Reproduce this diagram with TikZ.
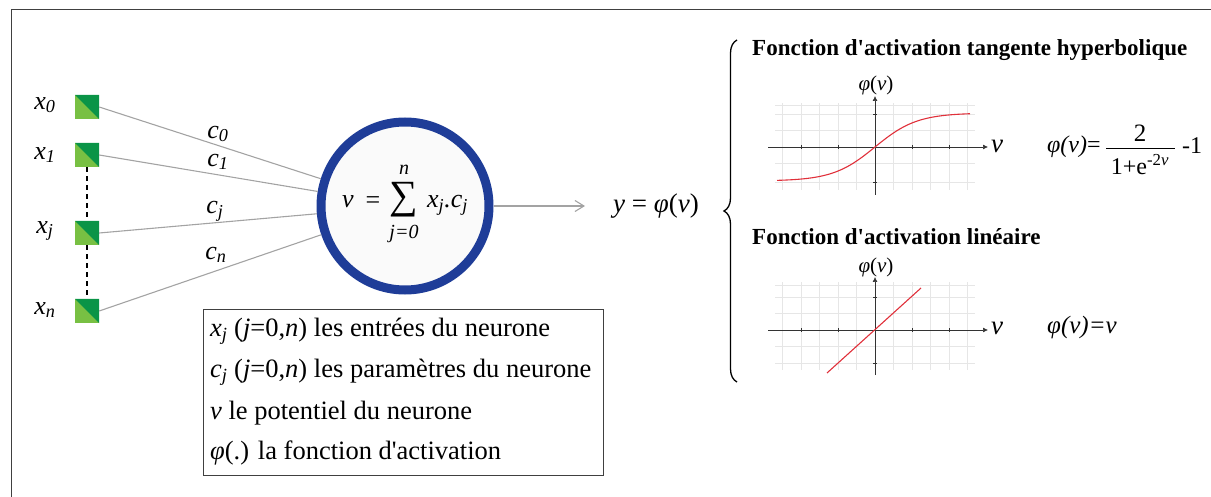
\documentclass[tikz,border=0pt]{standalone}
\usepackage{fontspec}
\setmainfont{Liberation Serif}
\usetikzlibrary{arrows.meta,decorations.pathreplacing}
\definecolor{glight}{HTML}{78C043}
\definecolor{gdark}{HTML}{0A9447}
\definecolor{nblue}{HTML}{1F3D98}
\definecolor{wgray}{HTML}{A3A3A3}
\definecolor{cred}{HTML}{E0303A}
\definecolor{gridc}{HTML}{E6E6E6}
\newcommand\iv[1]{\textit{#1}}
\newcommand\ap{\textquotesingle}
\begin{document}
\begin{tikzpicture}[x=1pt,y=-1pt,
  inbox/.style={minimum size=24pt,inner sep=0pt,fill=glight,
    path picture={\fill[gdark] (path picture bounding box.north west) -- (path picture bounding box.north east) -- (path picture bounding box.south east) -- cycle;}},
  xlab/.style={font=\fontsize{26}{28}\selectfont\itshape,inner sep=0pt},
  clab/.style={font=\fontsize{26}{28}\selectfont\itshape,inner sep=0pt},
  wire/.style={draw=wgray,line width=1.1pt},
  title/.style={font=\fontsize{23}{25}\selectfont\bfseries,anchor=west,inner sep=0pt},
  axis/.style={line width=0.7pt,draw=black!80},
  gridl/.style={draw=gridc,line width=0.5pt},
  curve/.style={draw=cred,line width=1.1pt},
  formula/.style={font=\fontsize{24}{26}\selectfont,inner sep=0pt},
  small/.style={font=\fontsize{19}{21}\selectfont,inner sep=0pt},
  leg/.style={font=\fontsize{26.5}{28}\selectfont,anchor=west,inner sep=0pt}
]
\useasboundingbox (0,0) rectangle (1211,497);
\begin{scope}
\clip (0,0) rectangle (1211,497);
\draw[line width=1pt,draw=black!75] (11,10) rectangle (1220,510);
\end{scope}

% inputs
\node[inbox] (s0) at (87,107) {};
\node[inbox] (s1) at (87,155) {};
\node[inbox] (sj) at (87,233) {};
\node[inbox] (sn) at (87,311) {};
\node[xlab] (l0) at (45,105) {x\textsubscript{0}};
\node[xlab] (l1) at (45,155) {x\textsubscript{1}};
\node[xlab] (lj) at (45,231) {x\textsubscript{j}};
\node[xlab] (ln) at (45,310) {x\textsubscript{n}};
\draw[dashed,line width=1.1pt,dash pattern=on 5pt off 4pt] (s1.south) -- (sj.north);
\draw[dashed,line width=1.1pt,dash pattern=on 5pt off 4pt] (sj.south) -- (sn.north);

% neuron
\node[circle,minimum size=168pt,draw=nblue,line width=9pt,fill=black!2,inner sep=0pt] (neu) at (405,206) {};
\draw[wire] (s0.east) -- (neu);
\draw[wire] (s1.east) -- (neu);
\draw[wire] (sj.east) -- (neu);
\draw[wire] (sn.east) -- (neu);
\node[clab] (c0) at (218,134) {c\textsubscript{0}};
\node[clab] (c1) at (218,162) {c\textsubscript{1}};
\node[clab] (cj) at (215,211) {c\textsubscript{j}};
\node[clab] (cn) at (216,255) {c\textsubscript{n}};

\node[formula,font=\fontsize{26}{28}\selectfont\itshape] (ev) at (348,202) {v};
\node[formula,font=\fontsize{26}{28}\selectfont] (eeq) at (373,203) {=};
\node[formula,font=\fontsize{40}{42}\selectfont] (esum) at (404,200) {∑};
\node[small,font=\fontsize{20}{22}\selectfont\itshape] (en) at (404,170) {n};
\node[small,font=\fontsize{20}{22}\selectfont\itshape] (ej) at (404,234) {j=0};
\node[formula,font=\fontsize{26}{28}\selectfont\itshape,anchor=west] (exc) at (427,205) {x\textsubscript{j}.c\textsubscript{j}};

\node[formula,font=\fontsize{27}{29}\selectfont] (y) at (656,206) {\iv{y} = \iv{φ}(\iv{v})};
\draw[wire,-{Straight Barb[length=9pt,width=11pt]}] (neu) -- (585,206) coordinate (yarr);

% brace
\draw[decorate,decoration={brace,amplitude=13pt},line width=1.3pt] (737,382) -- (737,40);

% tanh graph
\foreach \gx in {782.5,801,819.5,838,856.5,893.5,912,930.5,949,967.5}{\draw[gridl] (\gx,103) -- (\gx,190);}
\foreach \gy in {105.5,114,130.5,163.5,182}{\draw[gridl] (775,\gy) -- (975,\gy);}
\draw[axis,-{Latex[length=5pt,width=5pt]}] (768,147) -- (988,147);
\draw[axis,-{Latex[length=5pt,width=5pt]}] (875,195) -- (875,96);
\foreach \tx in {801,838,912,949}{\draw[axis] (\tx,145) -- (\tx,149);}
\foreach \ty in {114,182}{\draw[axis] (873,\ty) -- (877,\ty);}
\draw[curve,domain=777:970,samples=80] plot (\x,{147-34*tanh((\x-875)/42)});
\node[formula,font=\fontsize{27}{29}\selectfont\itshape] (v1) at (997,146) {v};
\node[small,font=\fontsize{21}{23}\selectfont] (p1) at (876,85) {\iv{φ}(\iv{v})};
\node[title] (t1) at (752,50) {Fonction d\ap activation tangente hyperbolique};
\node[formula,anchor=west] (f1a) at (1047,147) {\iv{φ(v)}=};
\node[formula,font=\fontsize{25}{27}\selectfont] (f1n) at (1140,133) {2};
\node[formula] (f1d) at (1140,165) {1+e\textsuperscript{-2\iv{v}}};
\draw[line width=0.8pt] (1106,148) -- (1175,148);
\node[formula,anchor=west] (f1m) at (1182,146) {-1};

% linear graph
\foreach \gx in {782.5,801,819.5,838,856.5,893.5,912,930.5,949,967.5}{\draw[gridl] (\gx,282) -- (\gx,370);}
\foreach \gy in {285,297,313.5,346.5,363}{\draw[gridl] (775,\gy) -- (975,\gy);}
\draw[axis,-{Latex[length=5pt,width=5pt]}] (768,330) -- (988,330);
\draw[axis,-{Latex[length=5pt,width=5pt]}] (875,375) -- (875,277);
\foreach \tx in {801,838,912,949}{\draw[axis] (\tx,328) -- (\tx,332);}
\foreach \ty in {297,363}{\draw[axis] (873,\ty) -- (877,\ty);}
\draw[curve] (827,373) -- (921,288);
\node[formula,font=\fontsize{27}{29}\selectfont\itshape] (v2) at (997,328) {v};
\node[small,font=\fontsize{21}{23}\selectfont] (p2) at (876,267) {\iv{φ}(\iv{v})};
\node[title] (t2) at (752,237) {Fonction d\ap activation linéaire};
\node[formula,anchor=west,font=\fontsize{25}{27}\selectfont] (f2) at (1047,327) {\iv{φ(v)=v}};

% legend
\draw[line width=1pt,draw=black!75] (203,310) rectangle (603,475);
\node[leg] (g1) at (210,331) {\iv{x\textsubscript{j}} (\iv{j}=0,\iv{n}) les entrées du neurone};
\node[leg] (g2) at (210,372) {\iv{c\textsubscript{j}} (\iv{j}=0,\iv{n}) les paramètres du neurone};
\node[leg] (g3) at (210,413) {\iv{v} le potentiel du neurone};
\node[leg] (g4) at (210,453) {\iv{φ}(.) la fonction d\ap activation};
\end{tikzpicture}
\end{document}
